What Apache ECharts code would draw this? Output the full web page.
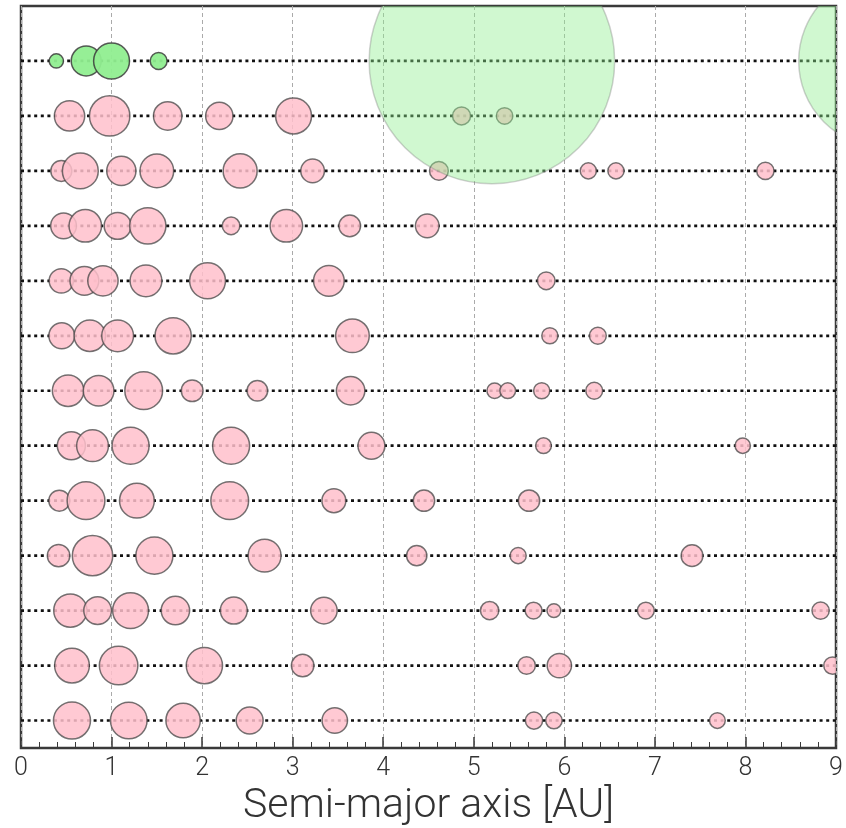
<!DOCTYPE html>
<html>
<head>
<meta charset="utf-8">
<script src="https://cdn.jsdelivr.net/npm/echarts@6/dist/echarts.min.js"></script>
<style>
html,body{margin:0;padding:0;background:#fff;}
#chart{width:846px;height:828px;}
</style>
</head>
<body>
<div id="chart"></div>
<script>
// Each planet: [semi-major axis (AU), relative diameter (Earth = 1)]
const solarSystem = [[0.39,0.42],[0.72,0.84],[1.00,1.00],[1.52,0.49],[5.20,6.62],[9.54,4.66]];
const system01 = [[0.536,0.85],[0.979,1.12],[1.62,0.80],[2.19,0.77],[3.01,1.00],[4.865,0.52],[5.34,0.48]];
const system02 = [[0.445,0.60],[0.655,1.00],[1.108,0.82],[1.50,0.94],[2.42,0.95],[3.22,0.67],[4.615,0.54],[6.265,0.47],[6.57,0.47],[8.22,0.50]];
const system03 = [[0.47,0.73],[0.71,0.91],[1.067,0.76],[1.40,1.01],[2.32,0.51],[2.93,0.91],[3.63,0.62],[4.486,0.67]];
const system04 = [[0.445,0.69],[0.70,0.81],[0.905,0.85],[1.38,0.89],[2.06,1.00],[3.40,0.86],[5.80,0.51]];
const system05 = [[0.45,0.73],[0.76,0.88],[1.067,0.89],[1.68,1.01],[3.66,0.94],[5.84,0.47],[6.37,0.49]];
const system06 = [[0.52,0.88],[0.857,0.86],[1.355,1.05],[1.89,0.62],[2.61,0.59],[3.64,0.80],[5.23,0.45],[5.375,0.46],[5.75,0.47],[6.33,0.49]];
const system07 = [[0.556,0.79],[0.79,0.89],[1.21,1.03],[2.32,1.03],[3.87,0.76],[5.77,0.46],[7.97,0.45]];
const system08 = [[0.423,0.60],[0.718,1.05],[1.28,0.97],[2.305,1.05],[3.455,0.68],[4.45,0.61],[5.61,0.61]];
const system09 = [[0.415,0.64],[0.79,1.12],[1.473,1.03],[2.69,0.92],[4.37,0.58],[5.49,0.47],[7.41,0.62]];
const system10 = [[0.545,0.93],[0.846,0.78],[1.21,1.00],[1.705,0.80],[2.35,0.76],[3.345,0.75],[5.175,0.53],[5.66,0.49],[5.885,0.41],[6.90,0.49],[8.83,0.50]];
const system11 = [[0.563,0.97],[1.078,1.07],[2.025,1.01],[3.11,0.64],[5.583,0.51],[5.945,0.69],[8.96,0.50]];
const system12 = [[0.563,1.03],[1.19,1.02],[1.79,0.96],[2.525,0.76],[3.465,0.72],[5.665,0.50],[5.885,0.48],[7.69,0.46]];

const exoSystems = [system01, system02, system03, system04, system05, system06, system07, system08, system09, system10, system11, system12];
const xTicks = [0,1,2,3,4,5,6,7,8,9];
const axisTitle = 'Semi-major axis [AU]';

const nRows = exoSystems.length + 1;           // solar system is the top row
const solarRow = exoSystems.length;
const rows = [];
for (let i = 0; i < nRows; i++) rows.push([i]);

const exoData = [];
exoSystems.forEach((sys, i) => {
  const row = exoSystems.length - 1 - i;
  sys.forEach(p => exoData.push([p[0], row, p[1]]));
});
const solarData = solarSystem.map(p => [p[0], solarRow, p[1]]);

const EARTH_DIAM = 37.3;   // px for relative diameter 1
const FONT = 'Roboto, "Liberation Sans", sans-serif';

function circleItem(api, style) {
  const c = api.coord([api.value(0), api.value(1)]);
  const r = api.value(2) * EARTH_DIAM / 2 - 0.7;
  return { type: 'circle', shape: { cx: c[0], cy: c[1], r: r }, style: style };
}

const chart = echarts.init(document.getElementById('chart'), null, { renderer: 'canvas' });
chart.setOption({
  animation: false,
  backgroundColor: '#fff',
  grid: { left: 21, right: 10, top: 6, bottom: 80, show: true, borderColor: '#3a3a3a', borderWidth: 2.5,
          backgroundColor: '#fff', containLabel: false, outerBoundsMode: 'none' },
  xAxis: {
    type: 'value', min: xTicks[0], max: xTicks[xTicks.length - 1], interval: 1,
    axisLine: { show: false, onZero: false },
    axisTick: { show: true, inside: true, length: 11, lineStyle: { color: '#3a3a3a', width: 1.5 } },
    minorTick: { show: true, splitNumber: 5, length: 6, lineStyle: { color: '#3a3a3a', width: 1 } },
    splitLine: { show: true, lineStyle: { color: '#aaaaaa', width: 1, type: [4, 3] } },
    axisLabel: { fontSize: 25, color: '#333', fontFamily: FONT, fontWeight: 300, margin: 8 },
    name: axisTitle, nameLocation: 'middle', nameGap: 34,
    nameTextStyle: { fontSize: 41, color: '#333', fontFamily: FONT, fontWeight: 300 }
  },
  yAxis: {
    type: 'value', min: -0.5, max: 13,
    axisLine: { show: false, onZero: false }, axisTick: { show: false }, axisLabel: { show: false }, splitLine: { show: false }
  },
  series: [
    {
      type: 'custom', coordinateSystem: 'cartesian2d', data: rows, clip: true, z: 2,
      encode: { y: 0 },
      renderItem: function (params, api) {
        const p0 = api.coord([xTicks[0], api.value(0)]);
        const p1 = api.coord([xTicks[xTicks.length - 1], api.value(0)]);
        return { type: 'line', shape: { x1: p0[0], y1: p0[1], x2: p1[0], y2: p1[1] },
          style: { stroke: '#111', lineWidth: 2.7, lineDash: [3, 3.6], lineCap: 'butt' } };
      }
    },
    {
      type: 'custom', coordinateSystem: 'cartesian2d', data: exoData, clip: true, z: 3,
      encode: { x: 0, y: 1 },
      renderItem: function (params, api) {
        return circleItem(api, { fill: 'rgba(255,192,203,0.85)', stroke: 'rgba(70,70,70,0.75)', lineWidth: 1.5 });
      }
    },
    {
      type: 'custom', coordinateSystem: 'cartesian2d', data: solarData, clip: true, z: 4,
      encode: { x: 0, y: 1 },
      renderItem: function (params, api) {
        const giant = api.value(2) > 3;
        const style = giant
          ? { fill: 'rgba(144,238,144,0.42)', stroke: 'rgba(120,120,120,0.35)', lineWidth: 1.5 }
          : { fill: 'rgba(144,238,144,0.95)', stroke: 'rgba(60,60,60,0.85)', lineWidth: 1.5 };
        return circleItem(api, style);
      }
    }
  ]
});
</script>
</body>
</html>
